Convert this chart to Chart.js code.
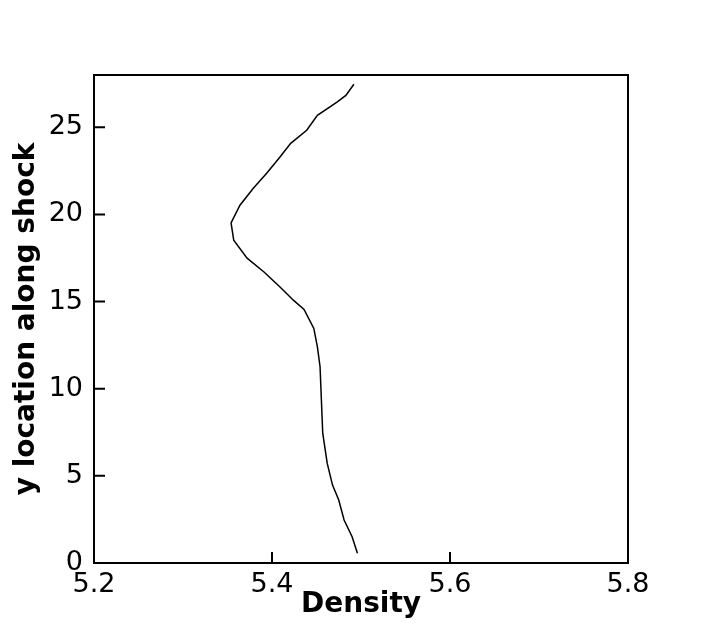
<!DOCTYPE html>
<html>
<head>
<meta charset="utf-8">
<script src="https://cdn.jsdelivr.net/npm/chart.js@4.4.0/dist/chart.umd.min.js"></script>
<style>
  html, body { margin: 0; padding: 0; background: #fff; }
</style>
</head>
<body>
<canvas id="densityChart" width="713" height="634"></canvas>
<script>
/* values, bottom of the shock to the top */
const density = [5.496, 5.490, 5.481, 5.475, 5.468, 5.462, 5.457, 5.4555, 5.454, 5.451,
                 5.447, 5.436, 5.424, 5.409, 5.391, 5.372, 5.357, 5.354, 5.364, 5.379,
                 5.394, 5.409, 5.421, 5.439, 5.451, 5.473, 5.483, 5.492];
const yLocation = [0.56, 1.51, 2.47, 3.61, 4.47, 5.73, 7.45, 9.35, 11.26, 12.40,
                   13.46, 14.55, 15.08, 15.84, 16.70, 17.49, 18.52, 19.51, 20.53, 21.50,
                   22.36, 23.30, 24.08, 24.83, 25.69, 26.45, 26.83, 27.47];
const xTicks = [5.2, 5.4, 5.6, 5.8];
const yTicks = [0, 5, 10, 15, 20, 25];

// frame round the plot area + short ticks pointing inwards
const framePlugin = {
    id: 'frame',
    afterDraw(chart) {
        const {ctx, chartArea: a, scales: {x, y}} = chart;
        ctx.save();
        ctx.strokeStyle = '#000';
        ctx.lineWidth = 2;
        ctx.strokeRect(a.left, a.top, a.right - a.left, a.bottom - a.top);
        ctx.beginPath();
        xTicks.forEach(v => {
            const px = x.getPixelForValue(v);
            ctx.moveTo(px, a.bottom);
            ctx.lineTo(px, a.bottom - 11);
        });
        yTicks.forEach(v => {
            const py = y.getPixelForValue(v);
            ctx.moveTo(a.left, py);
            ctx.lineTo(a.left + 11, py);
        });
        ctx.stroke();
        ctx.restore();
    }
};

const tickFont = {family: "'DejaVu Sans', sans-serif", size: 27};
const titleFont = {family: "'DejaVu Sans', sans-serif", size: 28, weight: 'bold'};

const ctx = document.getElementById('densityChart');
const densityChart = new Chart(ctx, {
    type: 'scatter',
    data: {
        datasets: [{
            data: density.map((d, i) => ({x: d, y: yLocation[i]})),
            showLine: true,
            borderColor: '#000',
            borderWidth: 1.5,
            pointRadius: 0,
            fill: false,
            tension: 0
        }]
    },
    options: {
        responsive: false,
        animation: false,
        devicePixelRatio: 1,
        layout: {padding: {top: 75, right: 85, left: 0, bottom: 0}},
        plugins: {legend: {display: false}, tooltip: {enabled: false}},
        scales: {
            x: {
                type: 'linear',
                min: 5.2,
                max: 5.8,
                afterBuildTicks: s => { s.ticks = xTicks.map(v => ({value: v})); },
                afterFit: s => { s.height = 71; },
                grid: {display: false, drawTicks: false},
                border: {display: false},
                ticks: {
                    color: '#000', font: tickFont, padding: 6,
                    maxRotation: 0, autoSkip: false,
                    callback: v => v.toFixed(1)
                },
                title: {
                    display: true, text: 'Density', color: '#000',
                    font: titleFont, padding: {top: 0, bottom: 12}
                }
            },
            y: {
                type: 'linear',
                min: 0,
                max: 28,
                afterBuildTicks: s => { s.ticks = yTicks.map(v => ({value: v})); },
                afterFit: s => { s.width = 94; },
                grid: {display: false, drawTicks: false},
                border: {display: false},
                ticks: {color: '#000', font: tickFont, padding: 11, autoSkip: false},
                title: {
                    display: true, text: 'y location along shock', color: '#000',
                    font: titleFont, padding: {top: 10, bottom: 0}
                }
            }
        }
    },
    plugins: [framePlugin]
});
</script>
</body>
</html>
